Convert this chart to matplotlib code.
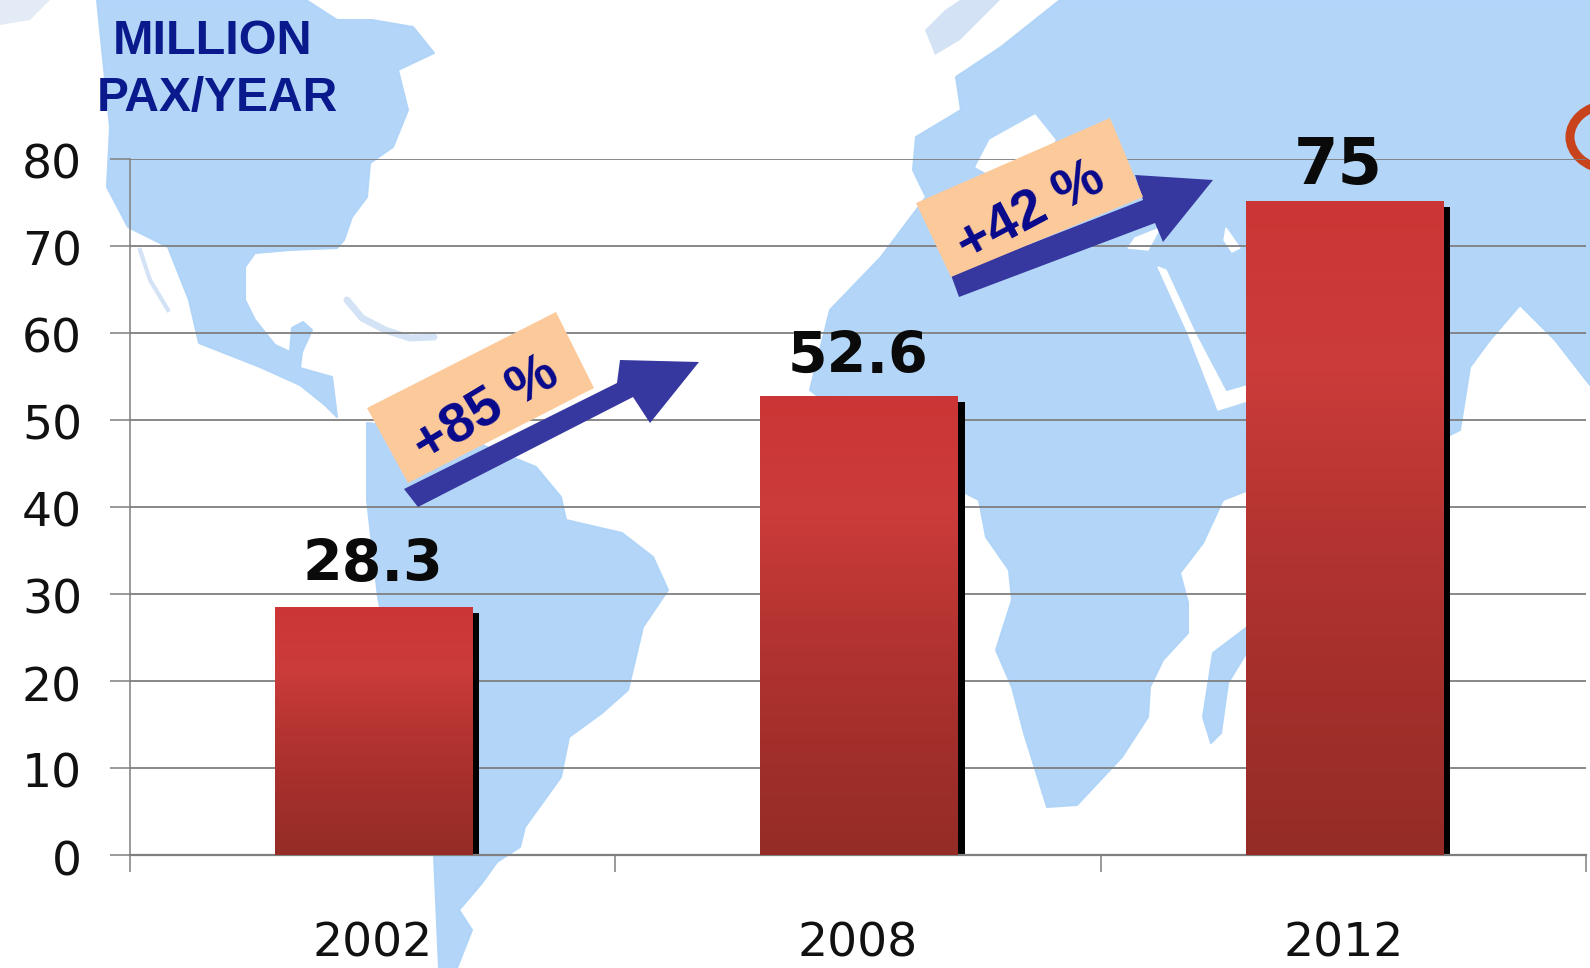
import numpy as np
import matplotlib
matplotlib.use("Agg")
import matplotlib.pyplot as plt
from matplotlib.patches import Polygon, Arc
from matplotlib.colors import LinearSegmentedColormap
from matplotlib.transforms import ScaledTranslation

# ---- data ----
years = ["2002", "2008", "2012"]
passengers = [28.3, 52.6, 75]
value_labels = ["28.3", "52.6", "75"]
y_ticks = [0, 10, 20, 30, 40, 50, 60, 70, 80]
growth_labels = ["+85 %", "+42 %"]
unit_lines = ["MILLION", "PAX/YEAR"]

W, H = 1590, 968
fig = plt.figure(figsize=(W / 100, H / 100), dpi=100, facecolor="white")

def pixel_axes(z):
    a = fig.add_axes([0, 0, 1, 1], zorder=z)
    a.set_xlim(0, W)
    a.set_ylim(H, 0)
    a.axis("off")
    return a

# ---- background world map (decorative), in pixels ----
bg = pixel_axes(0)
LAND = "#AFD4F8"
north_america = [(97,0),(306,0),(337,20),(372,20),(413,27),(434,53),(398,70),(408,110),(393,147),
    (370,163),(367,197),(352,217),(344,240),(337,248),(290,250),(255,253),(245,267),(245,300),
    (255,320),(275,345),(290,352),(292,328),(303,322),(312,330),(302,352),(300,368),(332,377),
    (337,417),(325,405),(300,385),(260,367),(199,343),(189,300),(168,247),(128,227),(107,187),(110,127)]
south_america = [(367,423),(420,430),(470,440),(536,467),(561,497),(566,520),(622,533),(653,557),
    (668,590),(643,627),(628,690),(602,713),(569,737),(561,777),(525,827),(520,847),(497,862),
    (482,883),(459,910),(472,930),(457,968),(439,968),(434,855),(410,760),(378,597),(367,500)]
eurasia_africa = [(1060,0),(1590,0),(1590,385),(1555,340),(1520,305),(1490,340),(1470,367),
    (1460,430),(1440,440),(1300,470),(1223,500),(1203,543),(1180,573),(1188,603),(1188,633),
    (1163,660),(1150,687),(1148,717),(1122,757),(1077,805),(1047,807),(1024,733),(1012,687),
    (996,650),(1012,600),(1009,570),(986,537),(979,500),(900,460),(810,390),(830,310),(881,257),
    (911,217),(926,197),(913,170),(916,137),(961,110),(956,77),(1001,47)]
madagascar = [(1203,717),(1211,743),(1221,733),(1228,683),(1250,647),(1250,625),(1213,653)]
for pts in (north_america, south_america, eurasia_africa, madagascar):
    bg.add_patch(Polygon(pts, closed=True, fc=LAND, ec=LAND, lw=1.5, alpha=0.95, joinstyle="round"))
# seas and faint islands
red_sea = [(1158,267),(1188,333),(1218,410),(1250,400),(1250,385),(1226,392),(1196,335),(1166,270)]
mediterranean = [(976,167),(990,140),(1035,115),(1055,140),(1040,175),(1000,180)]
gulf_patch = [(1135,238),(1160,228),(1148,250),(1128,248)]
small_white = [(1226,228),(1240,248),(1232,252),(1224,240)]
for pts in (red_sea, mediterranean, gulf_patch, small_white):
    bg.add_patch(Polygon(pts, closed=True, fc="white", ec="white", lw=1))
faint = "#D3E3F5"
bg.plot([347,362,385,410,434], [300,318,330,338,337], color=faint, lw=5, solid_capstyle="round")
bg.plot([140,150,168], [250,280,310], color=faint, lw=3)
bg.add_patch(Polygon([(925,30),(945,10),(960,0),(1000,0),(960,40),(935,55)], fc=faint, ec="none"))
bg.add_patch(Polygon([(0,0),(50,0),(30,20),(0,25)], fc="#E3ECF6", ec="none"))
bg.add_patch(Arc((1612, 137), 84, 66, theta1=100, theta2=260, color="#C8431C", lw=6.5))

# ---- chart ----
ax = fig.add_axes([130 / W, 1 - 855 / H, (1586 - 130) / W, (855 - 159) / H], zorder=1)
ax.patch.set_alpha(0)
GRID = "#7F7F7F"
positions = np.arange(len(years)) + 0.5
bar_width = 0.407

ramp = LinearSegmentedColormap.from_list("bar", ["#CC3535", "#CB3C3B", "#B53431", "#A32F2B", "#952C26"])
gradient = np.linspace(0, 1, 256).reshape(-1, 1)
for pos, val in zip(positions, passengers):
    # black drop shadow at the right edge
    ax.bar(pos + 0.0165, val - 0.5, width=bar_width, color="black", zorder=2)
    ax.imshow(gradient, cmap=ramp, aspect="auto", zorder=3,
              extent=(pos - bar_width / 2 + 0.002, pos + bar_width / 2 + 0.002, 0, val + 0.1))

ax.set_xlim(0, len(years))
ax.set_ylim(0, 80)
ax.set_yticks(y_ticks)
ax.set_yticklabels([str(t) for t in y_ticks], fontsize=34, color="#111111")
ax.set_xticks(np.arange(len(years) + 1))
ax.set_xticklabels([])
ax.set_xticks(positions, minor=True)
ax.set_xticklabels(years, minor=True, fontsize=34, color="#111111")
ax.tick_params(axis="y", length=14.5, width=1.1, color=GRID, pad=20)
ax.tick_params(axis="x", which="major", length=12, width=1.1, color=GRID)
ax.tick_params(axis="x", which="minor", length=0, pad=48)
shift = ScaledTranslation(0, -2.5 / 100, fig.dpi_scale_trans)
for lab in ax.get_yticklabels():
    lab.set_transform(lab.get_transform() + shift)
ax.yaxis.grid(True, color=GRID, lw=1.3, zorder=1)
ax.set_axisbelow(True)
for s in ("top", "right"):
    ax.spines[s].set_visible(False)
for s in ("left", "bottom"):
    ax.spines[s].set_color(GRID)
    ax.spines[s].set_linewidth(1.1)
ax.spines["bottom"].set_linewidth(1.6)

label_offsets = [(0, 31), (0, 28.5), (-4, 26.5)]
label_sizes = [41, 41, 46]
for pos, val, txt, off, fs in zip(positions, passengers, value_labels, label_offsets, label_sizes):
    ax.annotate(txt, (pos, val), xytext=off, textcoords="offset points", ha="center", va="center",
                fontsize=fs, fontweight="bold", color="#0A0A0A", annotation_clip=False, zorder=6)

# ---- annotations on top ----
top = pixel_axes(3)
NAVY = "#08088C"
ARROW = "#36389F"
TAG = "#FCC99A"
arrow1 = [(404,489),(617,383),(620,360),(699,362),(650,423),(633,397),(418,507)]
tag1 = [(367,408),(556,312),(594,388),(408,483)]
arrow2 = [(951,275),(1143,200),(1135,175),(1213,180),(1163,242),(1155,223),(959,297)]
tag2 = [(916,203),(1110,118),(1143,197),(951,277)]
for pts in (arrow1, arrow2):
    top.add_patch(Polygon(pts, closed=True, fc=ARROW, ec="none"))
for pts in (tag1, tag2):
    top.add_patch(Polygon(pts, closed=True, fc=TAG, ec="none"))
top.text(487, 411, growth_labels[0], rotation=31, rotation_mode="anchor", ha="center", va="center",
         fontsize=40, fontweight="bold", family="Liberation Sans", color=NAVY)
top.text(1031, 213, growth_labels[1], rotation=28, rotation_mode="anchor", ha="center", va="center",
         fontsize=40, fontweight="bold", family="Liberation Sans", color=NAVY)
top.text(213, 42, unit_lines[0], ha="center", va="center", fontsize=35, fontweight="bold",
         family="Liberation Sans", color="#0A1A8C")
top.text(217, 99, unit_lines[1], ha="center", va="center", fontsize=34.5, fontweight="bold",
         family="Liberation Sans", color="#0A1A8C")

fig.savefig("out.png", dpi=100)
